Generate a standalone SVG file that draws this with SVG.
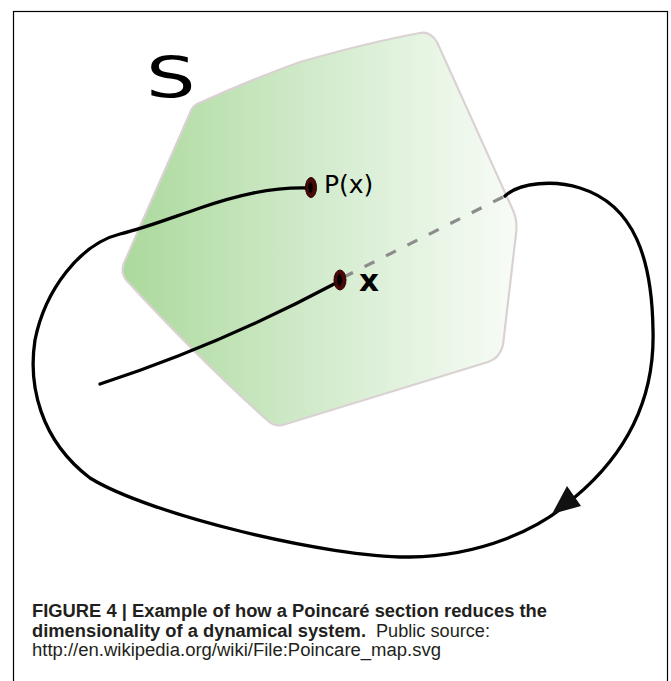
<svg xmlns="http://www.w3.org/2000/svg" width="671" height="681" viewBox="0 0 671 681">
<defs>
<linearGradient id="sg" x1="123" y1="0" x2="518" y2="0" gradientUnits="userSpaceOnUse">
<stop offset="0" stop-color="#abd99c"/>
<stop offset="0.5" stop-color="#d3ebcd"/>
<stop offset="1" stop-color="#f8fcf7"/>
</linearGradient>
<style>
.curve{fill:none;stroke:#000;stroke-width:3.3;stroke-linecap:round;stroke-linejoin:round}
.dash{fill:none;stroke:#8c8c8c;stroke-width:3.2;stroke-dasharray:11 13}
.dot{fill:#4a0808;stroke:#2a0000;stroke-width:1}
.dotc{fill:#000}
.lbl{font-family:"DejaVu Sans",sans-serif;fill:#000}
.cap{font-family:"Liberation Sans",Arial,sans-serif;font-size:18px;fill:#231f20}
</style>
</defs>
<rect x="13.5" y="11.5" width="654" height="690" fill="#fff" stroke="#000" stroke-width="1.2"/>
<g id="section-S">
<path d="M 197 104 Q 250 80 300 62 Q 370 42 420 33 Q 430 31 437 42 L 512 208 Q 518 220 516 234 L 503 345 Q 500 358 488 362 L 286 424 Q 276 428 268 421 Q 200 360 127 281 Q 120 273 124 263 L 190 113 Q 192 107 197 104 Z" fill="url(#sg)" stroke="#dad2d2" stroke-width="2.2"/>
<text class="lbl" font-size="57" transform="translate(146,98) scale(1.37,1)">S</text>
</g>
<g id="connectors">
<path class="dash" d="M 503 197 L 346 276"/>
<path class="curve" d="M 100 384 Q 220 345 338 282"/>
<path class="curve" d="M 308 188 C 270 187, 235 196, 200 208 C 165 220, 145 228, 120 234 C 80 244, 45 290, 35 340 C 28 385, 40 440, 90 478 C 150 515, 330 558, 410 557 C 480 556, 540 530, 575 497 C 625 455, 655 400, 653 330 C 652 260, 635 205, 580 188 C 555 180, 520 182, 505 196"/>
<polygon points="552,514 567,486 581,506" fill="#111"/>
</g>
<g id="point-Px">
<ellipse class="dot" cx="311" cy="187.5" rx="5.5" ry="10"/>
<ellipse class="dotc" cx="310.5" cy="187.5" rx="2.2" ry="5.5"/>
<text class="lbl" x="324" y="193" font-size="25">P(x)</text>
</g>
<g id="point-x">
<ellipse class="dot" cx="340" cy="280" rx="6" ry="10"/>
<ellipse class="dotc" cx="339.5" cy="280" rx="2.4" ry="6"/>
<text class="lbl" x="359" y="290.5" font-size="31" font-weight="bold">x</text>
</g>
<g id="caption">
<text class="cap" x="32" y="617" font-weight="bold" textLength="515" lengthAdjust="spacingAndGlyphs">FIGURE 4 | Example of how a Poincaré section reduces the</text>
<text class="cap" x="32" y="637" font-weight="bold" textLength="334" lengthAdjust="spacingAndGlyphs">dimensionality of a dynamical system.</text>
<text class="cap" x="376" y="637" fill="#333" textLength="114" lengthAdjust="spacingAndGlyphs">Public source:</text>
<text class="cap" x="32" y="656" fill="#333" textLength="409" lengthAdjust="spacingAndGlyphs">http://en.wikipedia.org/wiki/File:Poincare_map.svg</text>
</g>
</svg>
